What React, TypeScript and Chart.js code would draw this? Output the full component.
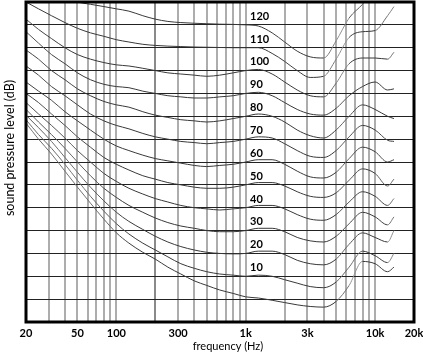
import { useEffect, useRef } from 'react';
import { Chart, registerables } from 'chart.js';

Chart.register(...registerables);

// Frequencies (Hz) at which each contour is sampled
const FREQS = [20, 25, 31.5, 40, 50, 63, 80, 100, 125, 160, 200, 250, 315, 400, 500, 630, 800, 1000, 1250, 1600, 2000, 2500, 3150, 4000, 5000, 6300, 8000, 10000, 12500, 14000];

// Sound pressure level (dB) of each equal-loudness contour (phon)
const SPL_0 = [77, 70, 63.5, 56, 49, 42, 35, 29, 24.5, 20.5, 17.5, 14, 11, 8, 6, 4, 2.5, 1, 0.5, -0.5, -1.5, -2.5, -3.2, -3.5, -1, 6, 16.5, 15.5, 12, 14];
const SPL_10 = [78.5, 72, 66, 59, 52, 45, 38.5, 33, 28.5, 24.5, 21.5, 18.5, 15.5, 13.5, 12, 11, 10.5, 10, 10.5, 10, 8.5, 7, 5.5, 5, 7.5, 14, 21, 19, 16, 20];
const SPL_20 = [80.5, 75, 69, 62, 55.5, 49, 43, 38, 34, 30.5, 27.5, 25, 23, 21.5, 20.5, 20, 19.8, 20, 21, 21, 19.5, 17, 15.5, 15, 17.5, 24, 29, 27, 25, 30];
const SPL_30 = [83, 77.5, 72, 66, 60, 54, 48.5, 44.5, 41, 38, 35.5, 33.5, 32, 31, 30, 29.5, 29.5, 30, 31, 31, 29.5, 27, 25.5, 25, 27.5, 33, 38, 36, 32.5, 36];
const SPL_40 = [86, 81, 76, 70.5, 65, 60, 55, 51.5, 48.5, 46, 44, 42.5, 41, 40, 39.5, 39, 39.5, 40, 41, 41, 39.5, 37, 35, 34.5, 37, 42.5, 47, 45, 41, 44];
const SPL_50 = [90, 86, 81, 76, 71, 66.5, 62, 59, 56.5, 54, 52.5, 51, 50, 49, 48.5, 48.5, 49, 50, 51, 51, 49.5, 47, 45, 44.5, 46.5, 52, 57, 55, 49.5, 52.5];
const SPL_60 = [95, 91, 87, 82, 78, 74, 70, 67, 65, 63, 61.5, 60.5, 59.5, 58.5, 58, 58.5, 59, 60, 61, 61, 59, 56, 53.5, 53, 55.5, 61.5, 66.5, 64.5, 60, 61];
const SPL_70 = [102, 98, 93, 89, 85, 81, 78, 76, 74.5, 72.5, 71, 70, 69, 68.5, 68, 68.5, 69, 70, 71, 70.5, 68, 65, 62.5, 62, 65, 71, 76, 74, 69.5, 69];
const SPL_80 = [109, 105, 100, 96, 92, 89, 86.5, 85, 84, 82, 80.5, 79.5, 78.5, 78, 77.5, 78, 79, 80, 81, 80, 77.5, 74, 71.5, 70.5, 74, 80, 85, 83, 80, 79];
const SPL_90 = [117, 112, 107, 103, 99, 96, 94, 93, 92.5, 91, 90, 89, 88.5, 88, 88, 88.5, 89, 90, 90.5, 89, 86, 83, 81, 80.5, 83.5, 89, 93, 95, 91.5, 92];
const SPL_100 = [122.5, 118, 114, 110, 107, 105, 103.5, 102.5, 102, 101, 100, 99, 98.5, 98, 97.5, 98, 99, 100, 100.5, 98.5, 95, 91.5, 89, 88.5, 94.5, 103, 105.5, 105.5, 105, 108];
const SPL_110 = [130, 127, 124, 121, 118.5, 116.5, 115, 113.5, 112.5, 111.5, 111, 110.7, 110.5, 110.3, 110.2, 110.1, 110, 110, 110, 107.5, 104, 100, 97, 97.5, 105, 114.5, 117, 117.5, 124, 128];
const SPL_120 = [140, 137, 134, 132, 130, 129, 128, 127, 126, 124, 122.5, 121.5, 121, 120.7, 120.5, 120.3, 120.2, 120, 119.5, 116.5, 112.5, 108.5, 106, 105.5, 113, 123, 129, 136, 142, 145];

const CURVES = [SPL_0, SPL_10, SPL_20, SPL_30, SPL_40, SPL_50, SPL_60, SPL_70, SPL_80, SPL_90, SPL_100, SPL_110, SPL_120];

// Curve labels (phon), drawn just above each contour at 1 kHz
const LABEL_LEVELS = [10, 20, 30, 40, 50, 60, 70, 80, 90, 100, 110, 120];
const LABEL_TEXT = ['10', '20', '30', '40', '50', '60', '70', '80', '90', '100', '110', '120'];

// Axis grid / tick labels
const GRID_FREQS = [20, 30, 40, 50, 60, 70, 80, 90, 100, 200, 300, 400, 500, 600, 700, 800, 900, 1000, 2000, 3000, 4000, 5000, 6000, 7000, 8000, 9000, 10000, 20000];
const TICK_FREQS = [20, 50, 100, 300, 1000, 3000, 10000, 20000];
const TICK_TEXT = ['20', '50', '100', '300', '1k', '3k', '10k', '20k'];
const Y_MIN = -10;
const Y_MAX = 130;
const X_TITLE = 'frequency (Hz)';
const Y_TITLE = 'sound pressure level (dB)';

const FONT = 'Lato, "Open Sans", sans-serif';

// thin curves look lighter where they run steeply
const segmentColor = (c: any) => {
  const dx = Math.abs(c.p1.x - c.p0.x);
  const dy = Math.abs(c.p1.y - c.p0.y);
  const s = dy / Math.max(dx, 0.001);
  const t = Math.min(1, Math.max(0, (s - 0.6) / 1.0));
  const g = Math.round(0x38 + (0x92 - 0x38) * t);
  return `rgb(${g},${g},${g})`;
};

const framePlugin = {
  id: 'frame',
  afterDraw(chart: any) {
    const { ctx, chartArea } = chart;
    ctx.save();
    ctx.strokeStyle = '#000';
    ctx.lineWidth = 3;
    ctx.strokeRect(chartArea.left, chartArea.top, chartArea.right - chartArea.left, chartArea.bottom - chartArea.top);
    // axis titles
    ctx.fillStyle = '#000';
    ctx.textAlign = 'center';
    ctx.textBaseline = 'middle';
    ctx.font = `11px ${FONT}`;
    ctx.fillText(X_TITLE, 228, 346);
    ctx.font = `12.5px ${FONT}`;
    ctx.translate(10, 148);
    ctx.rotate(-Math.PI / 2);
    ctx.fillText(Y_TITLE, 0, 0);
    ctx.restore();
  },
};

const labelPlugin = {
  id: 'curveLabels',
  afterDatasetsDraw(chart: any) {
    const { ctx } = chart;
    const x = chart.scales.x;
    const y = chart.scales.y;
    ctx.save();
    ctx.font = `bold 11px ${FONT}`;
    ctx.fillStyle = '#000';
    ctx.textAlign = 'left';
    ctx.textBaseline = 'middle';
    LABEL_LEVELS.forEach((lv, i) => {
      ctx.fillText(LABEL_TEXT[i], x.getPixelForValue(1080), y.getPixelForValue(lv + 3.8));
    });
    ctx.restore();
  },
};

export default function App() {
  const ref = useRef<HTMLCanvasElement | null>(null);

  useEffect(() => {
    if (!ref.current) return;
    const chart = new Chart(ref.current, {
      type: 'line',
      data: {
        datasets: CURVES.map((c) => ({
          data: FREQS.map((f, i) => ({ x: f, y: c[i] })),
          borderColor: '#383838',
          borderWidth: 1,
          pointRadius: 0,
          fill: false,
          cubicInterpolationMode: 'monotone' as const,
          segment: { borderColor: segmentColor },
        })),
      },
      options: {
        animation: false,
        responsive: false,
        devicePixelRatio: 1,
        layout: { padding: { left: 0, right: 9, top: 2, bottom: 0 } },
        plugins: { legend: { display: false }, tooltip: { enabled: false } },
        scales: {
          x: {
            type: 'logarithmic',
            min: 20,
            max: 20000,
            afterBuildTicks: (axis: any) => {
              axis.ticks = GRID_FREQS.map((v) => ({ value: v }));
            },
            afterFit: (axis: any) => {
              axis.height = 31;
              axis.paddingLeft = 0;
              axis.paddingRight = 0;
            },
            ticks: {
              autoSkip: false,
              maxRotation: 0,
              minRotation: 0,
              padding: 5,
              color: '#000',
              font: { family: FONT, size: 11, weight: 'bold' },
              callback: (v: any) => {
                const k = TICK_FREQS.indexOf(Number(v));
                return k >= 0 ? TICK_TEXT[k] : '';
              },
            },
            grid: {
              color: (c: any) => (c.tick && c.tick.value === 200 ? '#8a8a8a' : '#adadad'),
              lineWidth: 2,
              drawTicks: false,
            },
            border: { display: false },
            title: { display: false },
          },
          y: {
            type: 'linear',
            min: Y_MIN,
            max: Y_MAX,
            afterFit: (axis: any) => {
              axis.width = 26;
            },
            ticks: { stepSize: 10, display: false },
            grid: { color: '#222', lineWidth: 1, drawTicks: false },
            border: { display: false },
            title: { display: false },
          },
        },
      },
      plugins: [labelPlugin, framePlugin],
    } as any);
    return () => chart.destroy();
  }, []);

  return (
    <div style={{ position: 'absolute', left: 0, top: 0, width: 423, height: 353, background: '#fff' }}>
      <canvas ref={ref} width={423} height={353} />
    </div>
  );
}
